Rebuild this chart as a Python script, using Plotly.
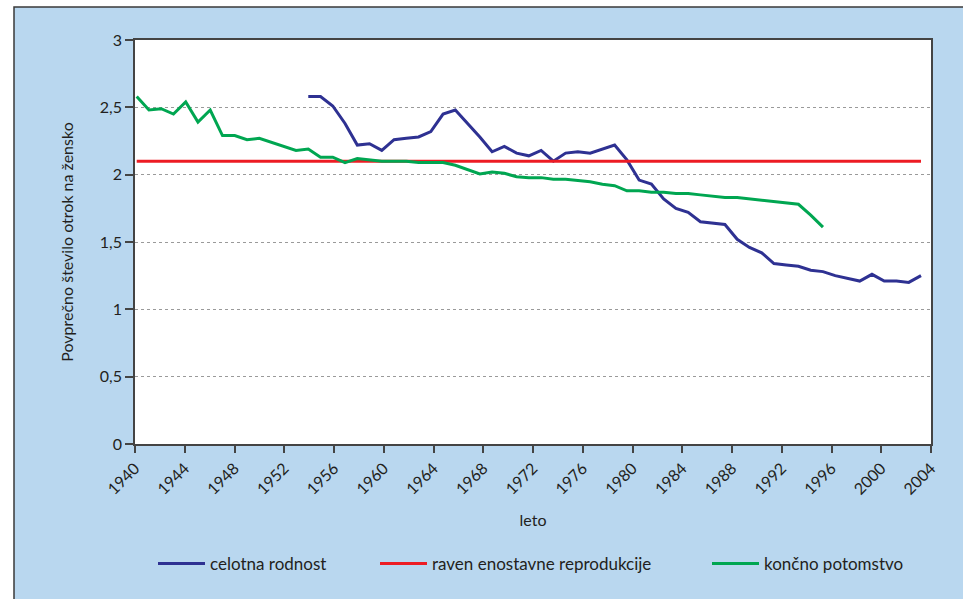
import plotly.graph_objects as go

# ---- data ----
total_years = list(range(1954, 2005))
total_fertility = [2.58, 2.58, 2.51, 2.38, 2.22, 2.23, 2.18, 2.26, 2.27, 2.28,
                   2.32, 2.45, 2.48, 2.38, 2.28, 2.17, 2.21, 2.16, 2.14, 2.18,
                   2.10, 2.16, 2.17, 2.16, 2.19, 2.22, 2.11, 1.96, 1.93, 1.82,
                   1.75, 1.72, 1.65, 1.64, 1.63, 1.52, 1.46, 1.42, 1.34, 1.33,
                   1.32, 1.29, 1.28, 1.25, 1.23, 1.21, 1.26, 1.21, 1.21, 1.20, 1.25]

repro_years = [1940, 2004]
repro_level = [2.1, 2.1]

final_years = list(range(1940, 1997))
final_offspring = [2.58, 2.48, 2.49, 2.45, 2.54, 2.39, 2.48, 2.29, 2.29, 2.26,
                   2.27, 2.24, 2.21, 2.18, 2.19, 2.13, 2.13, 2.09, 2.12, 2.11,
                   2.10, 2.10, 2.10, 2.09, 2.09, 2.09, 2.07, 2.035, 2.005, 2.02,
                   2.01, 1.985, 1.978, 1.978, 1.966, 1.966, 1.956, 1.948, 1.929, 1.918,
                   1.88, 1.88, 1.87, 1.87, 1.86, 1.86, 1.85, 1.84, 1.83, 1.83,
                   1.82, 1.81, 1.80, 1.79, 1.78, 1.70, 1.61]

tick_labels = [str(y) for y in range(1940, 2005, 4)]

names = ["celotna rodnost", "raven enostavne reprodukcije", "končno potomstvo"]
colors = ["#2E3192", "#ED1C24", "#00A651"]

# ---- layout geometry (pixels) ----
W, H = 963, 599
L, R, T, B = 135, 32, 40, 155
pw = W - L - R
ph = H - T - B

def px_x(p):
    return (p - L) / pw

def px_y(p):
    return (H - B - p) / ph

# x range: category-style placement (labels span the full axis, points slightly inset)
x_lo, x_hi = 1939.861, 2004.816
n_ticks = len(tick_labels)
tick_pos = [x_lo + i * (x_hi - x_lo) / (n_ticks - 1) for i in range(n_ticks)]

# ---- figure ----
fig = go.Figure()
series = [(total_years, total_fertility), (repro_years, repro_level), (final_years, final_offspring)]
legend_ids = ["legend", "legend2", "legend3"]
for (xs, ys), nm, col, lg in zip(series, names, colors, legend_ids):
    fig.add_trace(go.Scatter(x=xs, y=ys, mode="lines", name=nm, showlegend=True,
                             line=dict(color=col, width=3), legend=lg))

axis_col = "#444444"
font_col = "#231F20"
legend_common = dict(orientation="h", bgcolor="rgba(0,0,0,0)", borderwidth=0,
                     font=dict(size=17, color=font_col), yanchor="middle", xanchor="left",
                     y=px_y(564), itemwidth=47)

fig.update_layout(
    width=W, height=H,
    margin=dict(l=L, r=R, t=T, b=B),
    paper_bgcolor="white",
    plot_bgcolor="white",
    separators=", ",
    showlegend=True,
    font=dict(family="Lato, 'Open Sans', sans-serif", size=16, color=font_col),
    xaxis=dict(
        range=[x_lo, x_hi], tickmode="array", tickvals=tick_pos, ticktext=tick_labels,
        tickangle=-45, ticks="outside", ticklen=7, tickcolor=axis_col, tickwidth=1.5,
        showline=True, linecolor=axis_col, linewidth=1.5, mirror=True,
        showgrid=False, zeroline=False,
        title=dict(text="leto", standoff=18, font=dict(size=16)),
        tickfont=dict(size=16),
    ),
    yaxis=dict(
        range=[0, 3], dtick=0.5, ticks="outside", ticklen=8, tickcolor=axis_col, tickwidth=1.5,
        showline=True, linecolor=axis_col, linewidth=1.5, mirror=True,
        showgrid=True, gridcolor="#9a9a9a", griddash="dot", gridwidth=1,
        zeroline=False,
        title=dict(text="Povprečno število otrok na žensko", standoff=22, font=dict(size=16)),
        tickfont=dict(size=16),
    ),
    legend=dict(x=px_x(153), **legend_common),
    legend2=dict(x=px_x(375), **legend_common),
    legend3=dict(x=px_x(707), **legend_common),
    shapes=[
        dict(type="rect", xref="paper", yref="paper", layer="below",
             x0=px_x(14), x1=1.2, y0=-0.6, y1=px_y(7),
             fillcolor="#B9D7EF", line=dict(color="#3a3a3a", width=1.5)),
        dict(type="rect", xref="paper", yref="paper", layer="below",
             x0=0, x1=1, y0=0, y1=1, fillcolor="white", line=dict(width=0)),
    ],
)

fig.write_html("out.html",
               config={"displayModeBar": False},
               post_script="document.body.style.margin='0';document.body.style.overflow='hidden';")
